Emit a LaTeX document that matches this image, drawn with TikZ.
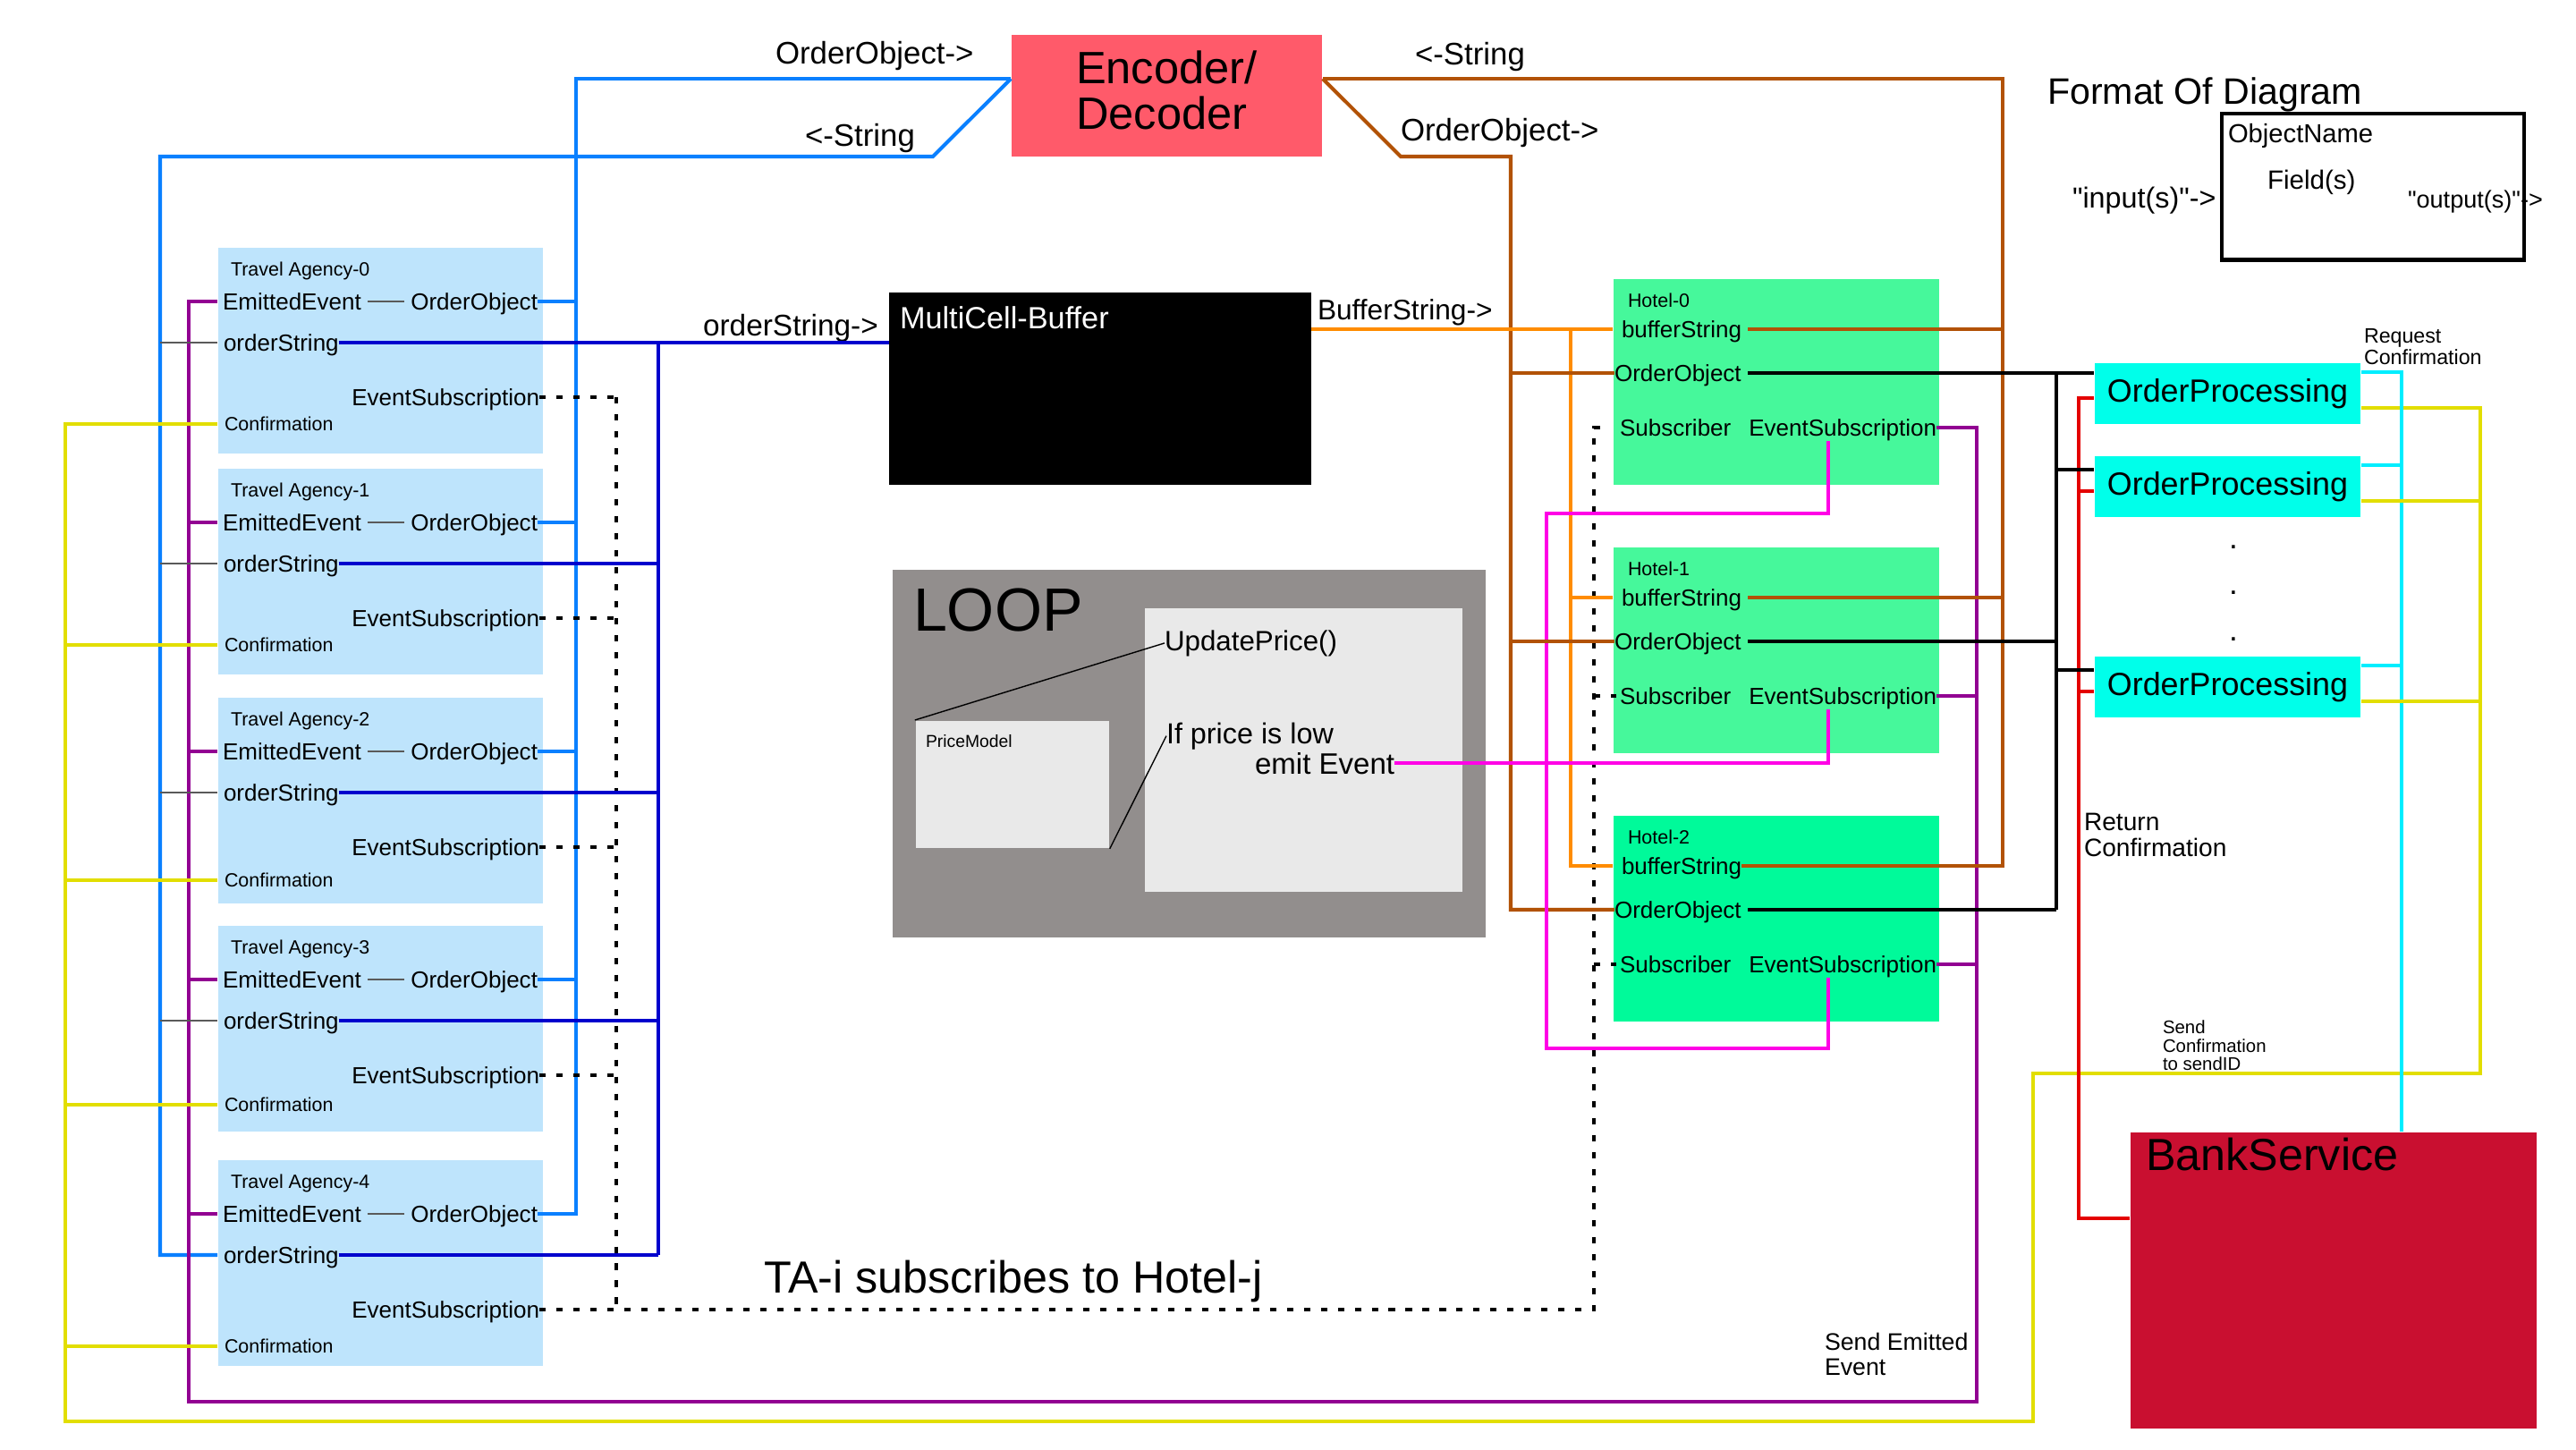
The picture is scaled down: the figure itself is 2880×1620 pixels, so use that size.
\documentclass[tikz,border=0pt]{standalone}
\usepackage{fontspec}
\setmainfont{Liberation Sans}[Ligatures=TeXOff]
\usepackage{pgf}
\usepackage{tikz}
\usetikzlibrary{positioning, calc}

\definecolor{taBlue}{RGB}{190,228,252}
\definecolor{hotelGreen}{RGB}{70,248,155}
\definecolor{hotelGreenB}{RGB}{0,250,154}
\definecolor{opCyan}{RGB}{0,255,234}
\definecolor{encRed}{RGB}{255,90,106}
\definecolor{bankRed}{RGB}{201,15,48}
\definecolor{loopGray}{RGB}{146,142,141}
\definecolor{paleGray}{RGB}{233,233,233}
\definecolor{azureC}{RGB}{10,128,255}
\definecolor{deepBlue}{RGB}{0,0,205}
\definecolor{brownC}{RGB}{178,82,6}
\definecolor{orangeC}{RGB}{255,140,0}
\definecolor{purpleC}{RGB}{146,0,146}
\definecolor{magentaC}{RGB}{255,0,230}
\definecolor{yellowC}{RGB}{226,222,0}
\definecolor{redC}{RGB}{228,0,0}
\definecolor{cyanC}{RGB}{0,238,255}
\definecolor{thinGray}{RGB}{90,90,90}

\newcommand{\sz}[2]{\fontsize{#1}{#2}\selectfont}

\tikzstyle{txt} = [inner sep=0pt, outer sep=0pt]
\tikzstyle{tabox} =
[
	rectangle, fill=taBlue, inner sep=0pt,
	minimum width=3.63cm, minimum height=2.3cm
]
\tikzstyle{hotelbox} =
[
	rectangle, fill=hotelGreen, inner sep=0pt,
	minimum width=3.64cm, minimum height=2.3cm
]
\tikzstyle{opbox} =
[
	rectangle, fill=opCyan, inner sep=0pt,
	minimum width=2.97cm, minimum height=0.68cm, font=\sz{10.2pt}{12pt}
]
\tikzstyle{encbox} =
[
	rectangle, fill=encRed, inner sep=0pt,
	minimum width=3.47cm, minimum height=1.36cm
]
\tikzstyle{field} = [txt, text height=5.3pt, text depth=0pt, font=\sz{7.4pt}{8.9pt}]
\tikzstyle{tinytext} = [txt, text height=4.4pt, text depth=0pt, font=\sz{6.1pt}{7.3pt}]
\tikzstyle{flowtext} = [txt, font=\sz{9.9pt}{12pt}]
\tikzstyle{wire} = [line width=1.15pt]
\tikzstyle{azwire} = [wire, draw=azureC]
\tikzstyle{dbwire} = [wire, draw=deepBlue]
\tikzstyle{brwire} = [wire, draw=brownC]
\tikzstyle{orwire} = [wire, draw=orangeC]
\tikzstyle{puwire} = [wire, draw=purpleC]
\tikzstyle{mgwire} = [wire, draw=magentaC]
\tikzstyle{ywire} = [wire, draw=yellowC]
\tikzstyle{rdwire} = [wire, draw=redC]
\tikzstyle{cywire} = [wire, draw=cyanC]
\tikzstyle{bkwire} = [wire, draw=black]
\tikzstyle{thinwire} = [line width=0.6pt, draw=thinGray]
\tikzstyle{dotwire} = [line width=1.4pt, draw=black, dash pattern=on 2pt off 3.4pt]

\begin{document}
\begin{tikzpicture}[x=0.01cm, y=-0.01cm]
\useasboundingbox (0,0) rectangle (2880,1620);

\node[encbox] (enc) at (1304.5,107) {};
\node[txt, anchor=north west, align=left, font=\sz{14.4pt}{14.5pt}] (encText) at (1203,57) {Encoder/\\Decoder};
\node[rectangle, fill=black, inner sep=0pt, minimum width=4.71cm, minimum height=2.15cm] (mcb) at (1230,434.5) {};
\node[txt, anchor=base west, font=\sz{9.75pt}{12pt}, text=white] (mcbText) at (1006,367) {MultiCell-Buffer};

\node[rectangle, fill=loopGray, minimum width=6.63cm, minimum height=4.11cm] (loop) at (1329.5,842.5) {};
\node[rectangle, fill=paleGray, minimum width=3.545cm, minimum height=3.17cm] (updbox) at (1457.75,838.5) {};
\node[rectangle, fill=paleGray, minimum width=2.164cm, minimum height=1.423cm] (pm) at (1131.8,876.9) {};
\node[txt, anchor=base west, font=\sz{19.4pt}{23pt}] (loopText) at (1021,705) {LOOP};
\node[txt, anchor=base west, font=\sz{5.5pt}{6.6pt}] (pmText) at (1035,835) {PriceModel};
\node[txt, anchor=base west, font=\sz{8.9pt}{10.7pt}] (upd) at (1302,727) {UpdatePrice()};
\node[txt, anchor=base west, font=\sz{9.2pt}{11pt}] (cond) at (1304,831) {If price is low};
\node[txt, anchor=base west, font=\sz{9.4pt}{11pt}] (emit) at (1403,865) {emit Event};

\node[rectangle, fill=bankRed, minimum width=4.54cm, minimum height=3.31cm] (bank) at (2609,1431.5) {};
\node[txt, anchor=base west, font=\sz{14.3pt}{17pt}] (bankText) at (2399,1308) {BankService};

\node[draw, line width=1.2pt, minimum width=3.38cm, minimum height=1.635cm] (fmt) at (2653,208.75) {};
\node[txt, anchor=base west, font=\sz{11.7pt}{14pt}] (fmtTitle) at (2289,116) {Format Of Diagram};
\node[txt, anchor=base west, font=\sz{8.3pt}{10pt}] (fmtName) at (2491,159) {ObjectName};
\node[txt, anchor=base west, font=\sz{8.4pt}{10pt}] (fmtField) at (2535,211) {Field(s)};
\node[txt, anchor=base west, font=\sz{9.2pt}{11pt}] (fmtIn) at (2317,232) {"input(s)"->};
\node[txt, anchor=base west, font=\sz{7.7pt}{9pt}] (fmtOut) at (2692,232) {"output(s)"->};

\foreach \i/\ty/\cy in {0/277/197, 1/524/197, 2/780/204, 3/1035/200, 4/1297/208}
{
	\node[tabox] (ta\i) at (425.5,\ty+115) {};
	\node[tinytext, anchor=base west] (ta\i-name) at (258,\ty+31) {Travel Agency-\i};
	\node[field, anchor=west] (ta\i-emit) at (249,\ty+60) {EmittedEvent};
	\node[field, anchor=east] (ta\i-obj) at (601,\ty+60) {OrderObject};
	\node[field, anchor=west] (ta\i-str) at (250,\ty+106) {orderString};
	\node[field, anchor=east] (ta\i-sub) at (603,\ty+167) {EventSubscription};
	\node[tinytext, anchor=west] (ta\i-conf) at (251,\ty+\cy) {Confirmation};
	\draw[thinwire, shorten <=2pt, shorten >=2pt] (ta\i-emit) -- (ta\i-obj);
}

\foreach \i/\ty/\my/\col in {0/312/574/hotelGreen, 1/612/855/hotelGreen, 2/912/1172/hotelGreenB}
{
	\node[hotelbox, fill=\col] (h\i) at (1986,\ty+115) {};
	\node[tinytext, anchor=base west] (h\i-name) at (1820,\ty+31) {Hotel-\i};
	\node[field, anchor=west] (h\i-buf) at (1813,\ty+56) {bufferString};
	\node[field, anchor=west] (h\i-obj) at (1805,\ty+105) {OrderObject};
	\node[field, anchor=west] (h\i-subr) at (1811,\ty+166) {Subscriber};
	\node[field, anchor=east] (h\i-evs) at (2165,\ty+166) {EventSubscription};
	\coordinate (h\i-mtop) at (2044,\ty+181);
	\coordinate (h\i-mbot) at (2044,\my);
}

\foreach \i/\y in {1/440, 2/544, 3/768}
{
	\node[opbox] (op\i) at (2490.5,\y) {OrderProcessing};
	\coordinate (op\i-blk) at ($(op\i.west)+(0,-19)$);
	\coordinate (op\i-rd) at ($(op\i.west)+(0,5)$);
	\coordinate (op\i-cy) at ($(op\i.east)+(0,-24)$);
	\coordinate (op\i-yl) at ($(op\i.east)+(0,16)$);
}
\foreach \k/\y in {1/612, 2/663, 3/715}
	\node[txt, font=\sz{10pt}{12pt}] (dot\k) at (2497,\y) {.};

\node[flowtext, anchor=base west] (objL) at (867,71) {OrderObject->};
\node[flowtext, anchor=base west] (strL) at (900,163) {<-String};
\node[flowtext, anchor=base west] (strR) at (1582,72) {<-String};
\node[flowtext, anchor=base west] (objR) at (1566,157) {OrderObject->};
\node[flowtext, anchor=base west, font=\sz{9.5pt}{11pt}] (ostrL) at (786,375) {orderString->};
\node[flowtext, anchor=base west, font=\sz{9pt}{11pt}] (bufL) at (1473,357) {BufferString->};
\node[txt, anchor=base west, font=\sz{14.3pt}{17pt}] (subsText) at (854,1445) {TA-i subscribes to Hotel-j};
\node[txt, anchor=north west, align=left, font=\sz{6.6pt}{6.8pt}] (reqText) at (2643,368) {Request\\Confirmation};
\node[txt, anchor=north west, align=left, font=\sz{8pt}{8.25pt}] (retText) at (2330,909) {Return\\Confirmation};
\node[txt, anchor=north west, align=left, font=\sz{5.8pt}{5.85pt}] (sendConf) at (2418,1141) {Send\\Confirmation\\to sendID};
\node[txt, anchor=north west, align=left, font=\sz{7.6pt}{8pt}] (sendEmit) at (2040,1490) {Send Emitted\\Event};

\coordinate (topline) at (0,88);
\coordinate (azbend) at (1043,175);
\coordinate (brbend) at (1566,175);
\coordinate (pbot) at (0,1567);
\coordinate (ybot) at (0,1589);
\coordinate (ymid) at (0,1200);
\coordinate (rbot) at (0,1362);
\coordinate (xYel) at (73,0);
\coordinate (xAzS) at (179,0);
\coordinate (xPurL) at (211,0);
\coordinate (xAzO) at (644,0);
\coordinate (xDot) at (689,0);
\coordinate (xStr) at (736,0);
\coordinate (xOrdB) at (1689,0);
\coordinate (xMagB) at (1729,0);
\coordinate (xOr) at (1756,0);
\coordinate (xDotH) at (1782,0);
\coordinate (xPurH) at (2210,0);
\coordinate (xBuf) at (2239,0);
\coordinate (xYelM) at (2273,0);
\coordinate (xBlk) at (2299,0);
\coordinate (xRed) at (2324,0);
\coordinate (xCy) at (2685,0);
\coordinate (xYelR) at (2773,0);

\draw[thin] (upd.west) -- (pm.north west);
\draw[thin] (cond.west) -- (pm.south east);

\draw[azwire] (enc.west |- topline) -- (xAzO |- topline) -- (xAzO |- ta4-obj.east) -- (ta4-obj.east);
\draw[azwire] (enc.west |- topline) -- (azbend) -- (xAzS |- azbend) -- (xAzS |- ta4-str.west) -- (ta4.west |- ta4-str.west);
\draw[dbwire] (ta0-str.east) -- (ta0-str.east -| mcb.west);
\draw[dbwire] (ta0-str.east -| xStr) -- (ta4-str.east -| xStr);
\draw[puwire] (h0-evs.east) -- (h0-evs.east -| xPurH) -- (xPurH |- pbot) -- (xPurL |- pbot) -- (xPurL |- ta0-emit.west) -- (ta0.west |- ta0-emit.west);
\draw[ywire] (ta0.west |- ta0-conf.west) -- (ta0-conf.west -| xYel) -- (xYel |- ybot) -- (xYelM |- ybot) -- (xYelM |- ymid) -- (xYelR |- ymid) -- (op1-yl -| xYelR) -- (op1-yl);
\draw[dotwire] (ta0-sub.east -| xDot) -- (ta4-sub.east -| xDot);
\draw[dotwire] (ta4-sub.east) -- (ta4-sub.east -| xDotH) -- (h0-subr.west -| xDotH) -- ([xshift=-5pt]h0-subr.west);
\foreach \i in {0,...,3}
{
	\draw[azwire] (ta\i-obj.east) -- (ta\i-obj.east -| xAzO);
	\draw[thinwire] (ta\i-str.west -| xAzS) -- (ta\i.west |- ta\i-str.west);
	\draw[dotwire] (ta\i-sub.east) -- (ta\i-sub.east -| xDot);
}
\foreach \i in {1,...,4}
{
	\draw[dbwire] (ta\i-str.east) -- (ta\i-str.east -| xStr);
	\draw[puwire] (ta\i-emit.west -| xPurL) -- (ta\i.west |- ta\i-emit.west);
	\draw[ywire] (ta\i-conf.west -| xYel) -- (ta\i.west |- ta\i-conf.west);
}

\draw[brwire] (enc.east |- topline) -- (xBuf |- topline) -- (h2-buf.east -| xBuf) -- (h2-buf.east);
\draw[brwire] (enc.east |- topline) -- (brbend) -- (xOrdB |- brbend) -- (h2-obj.west -| xOrdB) -- (h2-obj.west);
\draw[orwire] (h0-buf.west -| mcb.east) -- (h0.west |- h0-buf.west);
\draw[orwire] (h0-buf.west -| xOr) -- (h2-buf.west -| xOr) -- (h2.west |- h2-buf.west);
\draw[orwire] (h1-buf.west -| xOr) -- (h1.west |- h1-buf.west);
\draw[bkwire, shorten <=2pt] (h0-obj.east) -- (h0-obj.east -| op1.west);
\draw[bkwire] (h0-obj.east -| xBlk) -- (h2-obj.east -| xBlk);
\draw[mgwire] (h0-mtop) -- (h0-mbot) -- (h0-mbot -| xMagB) -- (h2-mbot -| xMagB) -- (h2-mbot) -- (h2-mtop);
\draw[mgwire] (emit.east) -- (emit.east -| h1-mtop) -- (h1-mtop);
\foreach \i in {0,1}
{
	\draw[brwire, shorten <=2pt] (h\i-buf.east) -- (h\i-buf.east -| xBuf);
	\draw[brwire] (h\i-obj.west -| xOrdB) -- (h\i-obj.west);
}
\foreach \i in {1,2}
{
	\draw[bkwire, shorten <=2pt] (h\i-obj.east) -- (h\i-obj.east -| xBlk);
	\draw[puwire] (h\i-evs.east) -- (h\i-evs.east -| xPurH);
	\draw[dotwire] (h\i-subr.west -| xDotH) -- ([xshift=-1pt]h\i-subr.west);
}

\draw[rdwire] (op1-rd) -- (op1-rd -| xRed) -- (xRed |- rbot) -- (bank.west |- rbot);
\draw[cywire] (op1-cy) -- (op1-cy -| xCy) -- (xCy |- bank.north);
\foreach \i in {2,3}
{
	\draw[bkwire] (op\i-blk -| xBlk) -- (op\i-blk);
	\draw[rdwire] (op\i-rd -| xRed) -- (op\i-rd);
	\draw[cywire] (op\i-cy) -- (op\i-cy -| xCy);
	\draw[ywire] (op\i-yl) -- (op\i-yl -| xYelR);
}

\end{tikzpicture}
\end{document}
